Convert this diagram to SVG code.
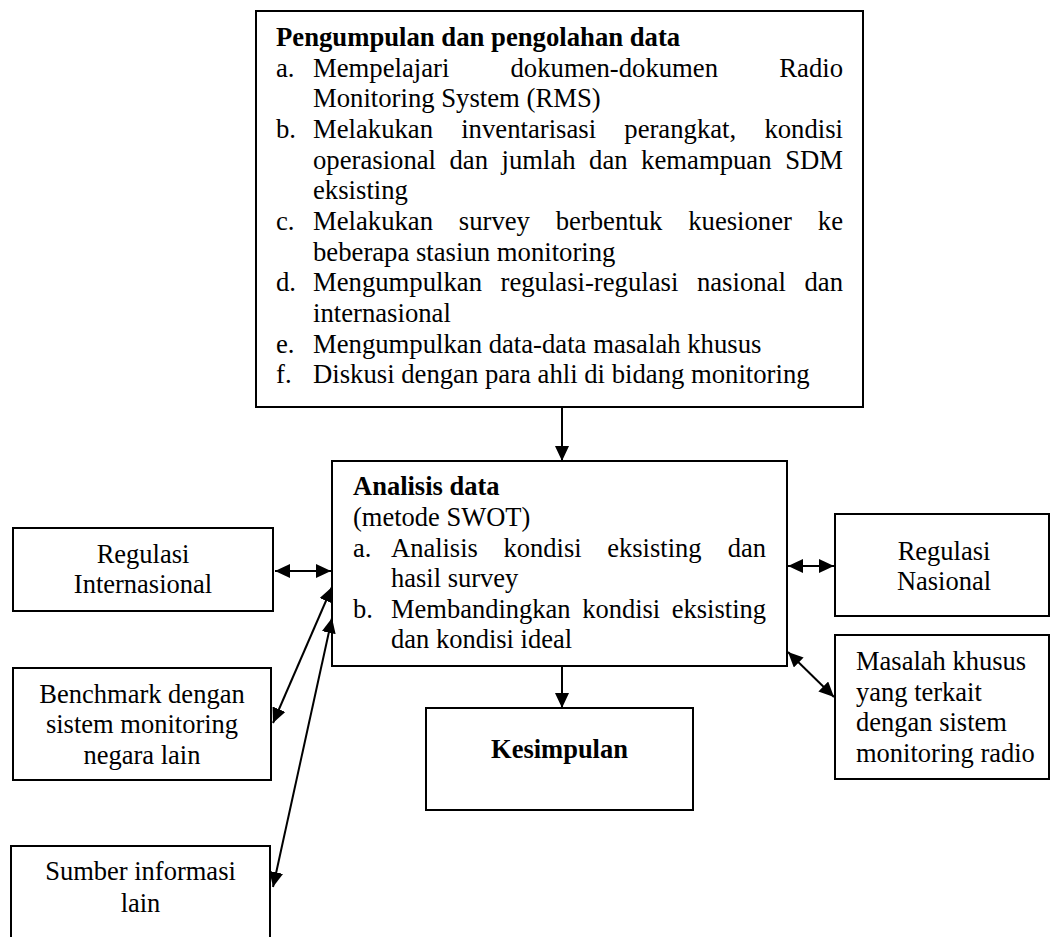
<svg xmlns="http://www.w3.org/2000/svg" width="1050" height="937" viewBox="0 0 1050 937">
<style>
  .box { fill: #fff; stroke: #000; stroke-width: 2; }
  .t { font-family: "Liberation Serif", "Times New Roman", serif; font-size: 26.5px; fill: #000; }
  .tt { font-family: "Liberation Serif", "Times New Roman", serif; font-size: 26.7px; fill: #000; }
  .b { font-weight: bold; }
  .c { text-anchor: middle; }
  .e { text-anchor: end; }
  .conn { fill: none; stroke: #000; stroke-width: 2; }
</style>
<defs>
  <marker id="ah" viewBox="0 0 15 14" markerWidth="15" markerHeight="14" refX="15" refY="7" orient="auto-start-reverse" markerUnits="userSpaceOnUse">
    <path d="M0,0 L15,7 L0,14 z" fill="#000"/>
  </marker>
</defs>
<rect width="1050" height="937" fill="#fff"/>

<g id="pengumpulan">
  <rect class="box" x="256" y="11" width="607" height="396"/>
  <text class="tt b" x="276" y="46">Pengumpulan dan pengolahan data</text>
  <text class="tt" x="276" y="76.7">a.</text>
  <text class="tt" y="76.7"><tspan x="313">Mempelajari</tspan><tspan x="510.5">dokumen-dokumen</tspan></text>
  <text class="tt e" x="843" y="76.7">Radio</text>
  <text class="tt" x="313" y="107.3">Monitoring System (RMS)</text>
  <text class="tt" x="276" y="138">b.</text>
  <text class="tt" y="138"><tspan x="313">Melakukan</tspan><tspan x="461.2">inventarisasi</tspan><tspan x="624.3">perangkat,</tspan></text>
  <text class="tt e" x="843" y="138">kondisi</text>
  <text class="tt" y="168.7"><tspan x="313">operasional</tspan><tspan x="449.5">dan</tspan><tspan x="501.5">jumlah</tspan><tspan x="589.1">dan</tspan><tspan x="641.1">kemampuan</tspan></text>
  <text class="tt e" x="843" y="168.7">SDM</text>
  <text class="tt" x="313" y="199.3">eksisting</text>
  <text class="tt" x="276" y="230">c.</text>
  <text class="tt" y="230"><tspan x="313">Melakukan</tspan><tspan x="458.8">survey</tspan><tspan x="555.7">berbentuk</tspan><tspan x="688.2">kuesioner</tspan></text>
  <text class="tt e" x="843" y="230">ke</text>
  <text class="tt" x="313" y="260.7">beberapa stasiun monitoring</text>
  <text class="tt" x="276" y="291.3">d.</text>
  <text class="tt" y="291.3"><tspan x="313">Mengumpulkan</tspan><tspan x="500.5">regulasi-regulasi</tspan><tspan x="696.9">nasional</tspan></text>
  <text class="tt e" x="843" y="291.3">dan</text>
  <text class="tt" x="313" y="322">internasional</text>
  <text class="tt" x="276" y="352.7">e.</text>
  <text class="tt" x="313" y="352.7">Mengumpulkan data-data masalah khusus</text>
  <text class="tt" x="276" y="383.3">f.</text>
  <text class="tt" x="313" y="383.3">Diskusi dengan para ahli di bidang monitoring</text>
</g>

<g id="analisis">
  <rect class="box" x="332" y="461" width="455" height="205"/>
  <text class="t b" x="353" y="495">Analisis data</text>
  <text class="t" x="353" y="526">(metode SWOT)</text>
  <text class="t" x="353" y="556.7">a.</text>
  <text class="t" y="556.7"><tspan x="391">Analisis</tspan><tspan x="503.6">kondisi</tspan><tspan x="607.3">eksisting</tspan></text>
  <text class="t e" x="766" y="556.7">dan</text>
  <text class="t" x="391" y="587">hasil survey</text>
  <text class="t" x="353" y="617.5">b.</text>
  <text class="t" y="617.5"><tspan x="391">Membandingkan</tspan><tspan x="582.2">kondisi</tspan></text>
  <text class="t e" x="766" y="617.5">eksisting</text>
  <text class="t" x="391" y="648">dan kondisi ideal</text>
</g>

<g id="kesimpulan">
  <rect class="box" x="426" y="708" width="267" height="102"/>
  <text class="t b c" x="559.5" y="758">Kesimpulan</text>
</g>

<g id="regulasi-internasional">
  <rect class="box" x="13" y="528" width="260" height="83"/>
  <text class="t c" x="143" y="563">Regulasi</text>
  <text class="t c" x="143" y="593">Internasional</text>
</g>

<g id="benchmark">
  <rect class="box" x="13" y="668" width="258" height="112"/>
  <text class="t c" x="142" y="703">Benchmark dengan</text>
  <text class="t c" x="142" y="733">sistem monitoring</text>
  <text class="t c" x="142" y="764">negara lain</text>
</g>

<g id="sumber">
  <rect class="box" x="11" y="846" width="259" height="110"/>
  <text class="t c" x="140.5" y="880">Sumber informasi</text>
  <text class="t c" x="140.5" y="912">lain</text>
</g>

<g id="regulasi-nasional">
  <rect class="box" x="835" y="514" width="214" height="102"/>
  <text class="t c" x="944" y="560">Regulasi</text>
  <text class="t c" x="944" y="590">Nasional</text>
</g>

<g id="masalah">
  <rect class="box" x="835" y="635" width="214" height="144"/>
  <text class="t" x="856" y="670">Masalah khusus</text>
  <text class="t" x="856" y="700.5">yang terkait</text>
  <text class="t" x="856" y="731">dengan sistem</text>
  <text class="t" x="856" y="761.5">monitoring radio</text>
</g>

<g id="connectors">
  <path class="conn" d="M562,407 L562,461" marker-end="url(#ah)"/>
  <path class="conn" d="M562,666 L562,708" marker-end="url(#ah)"/>
  <path class="conn" d="M275,571 L331,571" marker-start="url(#ah)" marker-end="url(#ah)"/>
  <path class="conn" d="M788,566 L834,566" marker-start="url(#ah)" marker-end="url(#ah)"/>
  <path class="conn" d="M788,652 L834,697" marker-start="url(#ah)" marker-end="url(#ah)"/>
  <path class="conn" d="M332,587 L273,723" marker-start="url(#ah)" marker-end="url(#ah)"/>
  <path class="conn" d="M332,618 L273,887" marker-start="url(#ah)" marker-end="url(#ah)"/>
</g>
</svg>
